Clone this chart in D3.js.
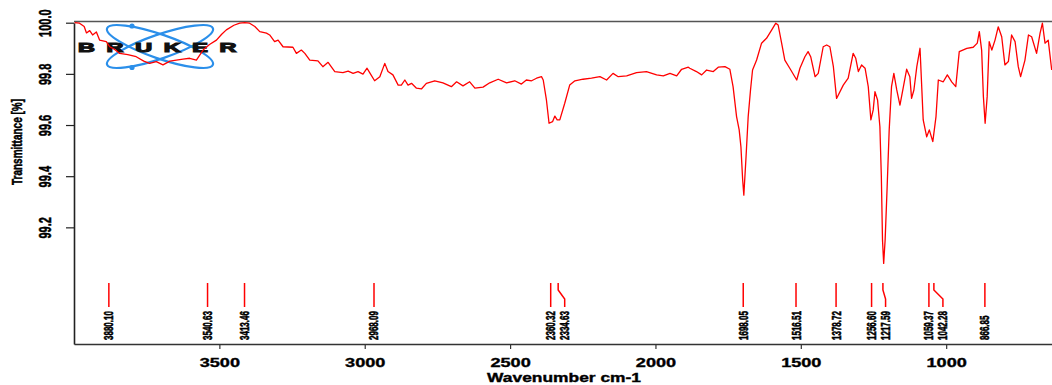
<!DOCTYPE html>
<html>
<head>
<meta charset="utf-8">
<script src="https://cdn.jsdelivr.net/npm/d3@7"></script>
<style>
  body { margin: 0; background: #fff; }
  svg { display: block; font-family: 'Liberation Sans', Arial, sans-serif; }
  .lbl { font-weight: bold; fill: #000; stroke: #000; stroke-width: 0.35px; }
</style>
</head>
<body>
<svg id="chart" width="1052" height="385"></svg>
<script>
// spectrum: wavenumber (cm-1) / transmittance (%)
const wavenumber = [
  3998, 3981, 3965, 3957, 3946, 3936, 3923, 3912, 3889, 3877, 3860, 3843, 3815, 3786, 3760, 3740,
  3717, 3694, 3670, 3648, 3625, 3602, 3579, 3556, 3534, 3510, 3492, 3476, 3450, 3430, 3413, 3396,
  3378, 3361, 3338, 3327, 3310, 3298, 3281, 3247, 3235, 3218, 3206, 3189, 3161, 3144, 3126, 3103,
  3075, 3057, 3040, 3023, 3006, 2992, 2983, 2966, 2948, 2931, 2920, 2903, 2885, 2874, 2862, 2851,
  2839, 2822, 2805, 2788, 2759, 2731, 2702, 2684, 2662, 2639, 2621, 2593, 2570, 2541, 2512, 2484,
  2461, 2444, 2426, 2409, 2392, 2386, 2375, 2366, 2354, 2346, 2338, 2329, 2312, 2295, 2277, 2249,
  2220, 2191, 2168, 2146, 2128, 2099, 2065, 2031, 1996, 1973, 1950, 1927, 1910, 1887, 1882, 1859,
  1841, 1824, 1801, 1784, 1761, 1744, 1733, 1721, 1712, 1706, 1700, 1696, 1689, 1681, 1673, 1666,
  1652, 1635, 1618, 1600, 1586, 1578, 1566, 1555, 1538, 1514, 1503, 1486, 1475, 1466, 1451, 1440,
  1423, 1411, 1400, 1388, 1377, 1354, 1337, 1320, 1311, 1302, 1291, 1279, 1268, 1259, 1251, 1245,
  1236, 1228, 1223, 1219, 1215, 1210, 1203, 1196, 1188, 1180, 1170, 1159, 1148, 1136, 1125, 1119,
  1111, 1101, 1090, 1079, 1067, 1058, 1046, 1035, 1027, 1010, 996, 981, 967, 955, 929, 907,
  893, 886, 878, 872, 866, 859, 852, 843, 832, 821, 809, 798, 786, 775, 763, 752,
  744, 729, 717, 706, 689, 677, 669, 660, 649, 637
];
const transmittance = [
  100.000, 99.998, 99.985, 99.960, 99.969, 99.952, 99.964, 99.932, 99.926, 99.906, 99.895, 99.880, 99.875, 99.867, 99.850, 99.841,
  99.848, 99.835, 99.850, 99.854, 99.858, 99.861, 99.854, 99.893, 99.915, 99.932, 99.955, 99.972, 99.990, 99.998, 100.000, 99.998,
  99.985, 99.965, 99.959, 99.952, 99.926, 99.932, 99.906, 99.904, 99.880, 99.893, 99.880, 99.854, 99.851, 99.828, 99.845, 99.809,
  99.805, 99.811, 99.802, 99.809, 99.799, 99.822, 99.805, 99.773, 99.789, 99.841, 99.809, 99.796, 99.756, 99.756, 99.776, 99.756,
  99.763, 99.744, 99.741, 99.763, 99.773, 99.765, 99.750, 99.769, 99.753, 99.769, 99.744, 99.748, 99.765, 99.779, 99.765, 99.773,
  99.760, 99.776, 99.773, 99.783, 99.789, 99.776, 99.698, 99.607, 99.613, 99.635, 99.620, 99.620, 99.685, 99.756, 99.773, 99.779,
  99.783, 99.789, 99.776, 99.802, 99.789, 99.792, 99.805, 99.809, 99.796, 99.792, 99.802, 99.792, 99.818, 99.826, 99.822, 99.809,
  99.796, 99.815, 99.809, 99.826, 99.828, 99.818, 99.750, 99.633, 99.581, 99.515, 99.385, 99.326, 99.463, 99.633, 99.737, 99.815,
  99.854, 99.920, 99.939, 99.972, 99.998, 99.991, 99.920, 99.854, 99.822, 99.776, 99.822, 99.867, 99.887, 99.867, 99.789, 99.802,
  99.906, 99.913, 99.906, 99.828, 99.704, 99.756, 99.783, 99.880, 99.861, 99.809, 99.835, 99.822, 99.750, 99.620, 99.659, 99.730,
  99.698, 99.593, 99.398, 99.150, 99.059, 99.150, 99.359, 99.581, 99.750, 99.802, 99.737, 99.678, 99.744, 99.818, 99.789, 99.704,
  99.737, 99.828, 99.900, 99.620, 99.554, 99.581, 99.535, 99.633, 99.776, 99.769, 99.796, 99.769, 99.750, 99.887, 99.900, 99.904,
  99.920, 99.965, 99.893, 99.711, 99.607, 99.711, 99.926, 99.893, 99.932, 99.984, 99.945, 99.835, 99.848, 99.952, 99.926, 99.828,
  99.789, 99.854, 99.952, 99.945, 99.880, 99.959, 99.998, 99.920, 99.932, 99.815
];

// picked peaks
const peakLabels = ['3880.10', '3540.63', '3413.46', '2968.09', '2360.32', '2334.63', '1698.05',
  '1516.51', '1378.72', '1256.60', '1217.59', '1059.37', '1042.28', '866.85'];

const xTicks = [3500, 3000, 2500, 2000, 1500, 1000];
const yTicks = [100.0, 99.8, 99.6, 99.4, 99.2];
const yTickLabels = ['100.0', '99.8', '99.6', '99.4', '99.2'];

const svg = d3.select('#chart');
const stretch = 1.45; // the whole picture looks widened, text too

const x = d3.scaleLinear().domain([4000, 636]).range([74, 1052]);
const y = d3.scaleLinear().domain([98.744, 100]).range([344, 22.7]);

// Bruker logo (drawn under the trace)
const logo = svg.append('g').attr('transform', 'translate(160,46.5)');
[-19, 19].forEach(function (a) {
  logo.append('ellipse')
    .attr('rx', 56).attr('ry', 12)
    .attr('transform', 'rotate(' + a + ')')
    .attr('fill', 'none')
    .attr('stroke', '#2b8fea')
    .attr('stroke-width', 2.2);
});
logo.selectAll('circle.dot')
  .data([-20.5, 21])
  .enter()
  .append('circle')
  .attr('cx', -28)
  .attr('cy', function (d) { return d; })
  .attr('r', 2.6)
  .attr('fill', '#2b8fea');
logo.append('text')
  .attr('transform', 'translate(-82,5.5) scale(1.8,1)')
  .attr('font-size', 13)
  .attr('font-weight', 'bold')
  .attr('letter-spacing', 6.5)
  .attr('fill', '#111')
  .attr('stroke', '#111')
  .attr('stroke-width', 1.1)
  .text('BRUKER');

// frame
svg.append('line')
  .attr('x1', 74).attr('x2', 1052)
  .attr('y1', 21.5).attr('y2', 21.5)
  .attr('stroke', '#555').attr('stroke-width', 1.5);

// x axis
const gx = svg.append('g')
  .attr('transform', 'translate(0,344)')
  .call(d3.axisBottom(x).tickValues(xTicks).tickSize(5).tickSizeOuter(0).tickFormat(d3.format('d')));
gx.select('.domain').attr('stroke', '#333').attr('stroke-width', 1.6);
gx.selectAll('.tick line').attr('stroke', '#333').attr('stroke-width', 1.2);
gx.selectAll('.tick text')
  .attr('class', 'lbl')
  .attr('font-size', 12.5)
  .attr('font-family', null)
  .attr('y', 0).attr('dy', null)
  .attr('transform', 'translate(0,22.5) scale(' + stretch + ',1)');

// y axis
const gy = svg.append('g')
  .attr('transform', 'translate(74,0)')
  .call(d3.axisLeft(y).tickValues(yTicks).tickSize(8).tickSizeOuter(0)
    .tickFormat(function (d, i) { return yTickLabels[i]; }));
gy.select('.domain').attr('stroke', '#222').attr('stroke-width', 1.6);
gy.selectAll('.tick line').attr('stroke', '#222').attr('stroke-width', 1.2);
gy.selectAll('.tick text')
  .attr('class', 'lbl')
  .attr('font-size', 11)
  .attr('font-family', null)
  .attr('x', 0).attr('dy', '0.35em')
  .attr('text-anchor', 'middle')
  .attr('transform', 'translate(-29,0) scale(' + stretch + ',1) rotate(-90)');

// axis titles
svg.append('text')
  .attr('class', 'lbl')
  .attr('font-size', 12)
  .attr('text-anchor', 'middle')
  .attr('transform', 'translate(564,382) scale(' + stretch + ',1)')
  .text('Wavenumber cm-1');

svg.append('text')
  .attr('class', 'lbl')
  .attr('font-size', 10)
  .attr('text-anchor', 'middle')
  .attr('dy', '0.35em')
  .attr('transform', 'translate(16.5,142) scale(' + stretch + ',1) rotate(-90)')
  .text('Transmittance [%]');

// spectrum trace
const points = wavenumber.map(function (w, i) { return [w, transmittance[i]]; });
svg.append('path')
  .datum(points)
  .attr('fill', 'none')
  .attr('stroke', '#ff0000')
  .attr('stroke-width', 1.3)
  .attr('stroke-linejoin', 'round')
  .attr('d', d3.line()
    .x(function (d) { return x(d[0]); })
    .y(function (d) { return y(d[1]); }));

// peak markers, labels pushed right when they would overlap
const peaks = [];
peakLabels.forEach(function (s, i) {
  const px = x(+s);
  const lx = i === 0 ? px : Math.max(px, peaks[i - 1].lx + 14);
  peaks.push({ text: s, px: px, lx: lx });
});

const gp = svg.append('g');
gp.selectAll('path')
  .data(peaks)
  .enter()
  .append('path')
  .attr('fill', 'none')
  .attr('stroke', '#ff0000')
  .attr('stroke-width', 1.5)
  .attr('d', function (d) {
    return 'M' + d.px + ',283 L' + d.px + ',290 L' + d.lx + ',299 L' + d.lx + ',307';
  });
gp.selectAll('text')
  .data(peaks)
  .enter()
  .append('text')
  .attr('class', 'lbl')
  .attr('font-size', 8)
  .attr('stroke-width', 0.3)
  .attr('dy', '0.35em')
  .attr('transform', function (d) {
    return 'translate(' + d.lx + ',340) scale(1.6,1) rotate(-90)';
  })
  .text(function (d) { return d.text; });
</script>
</body>
</html>
